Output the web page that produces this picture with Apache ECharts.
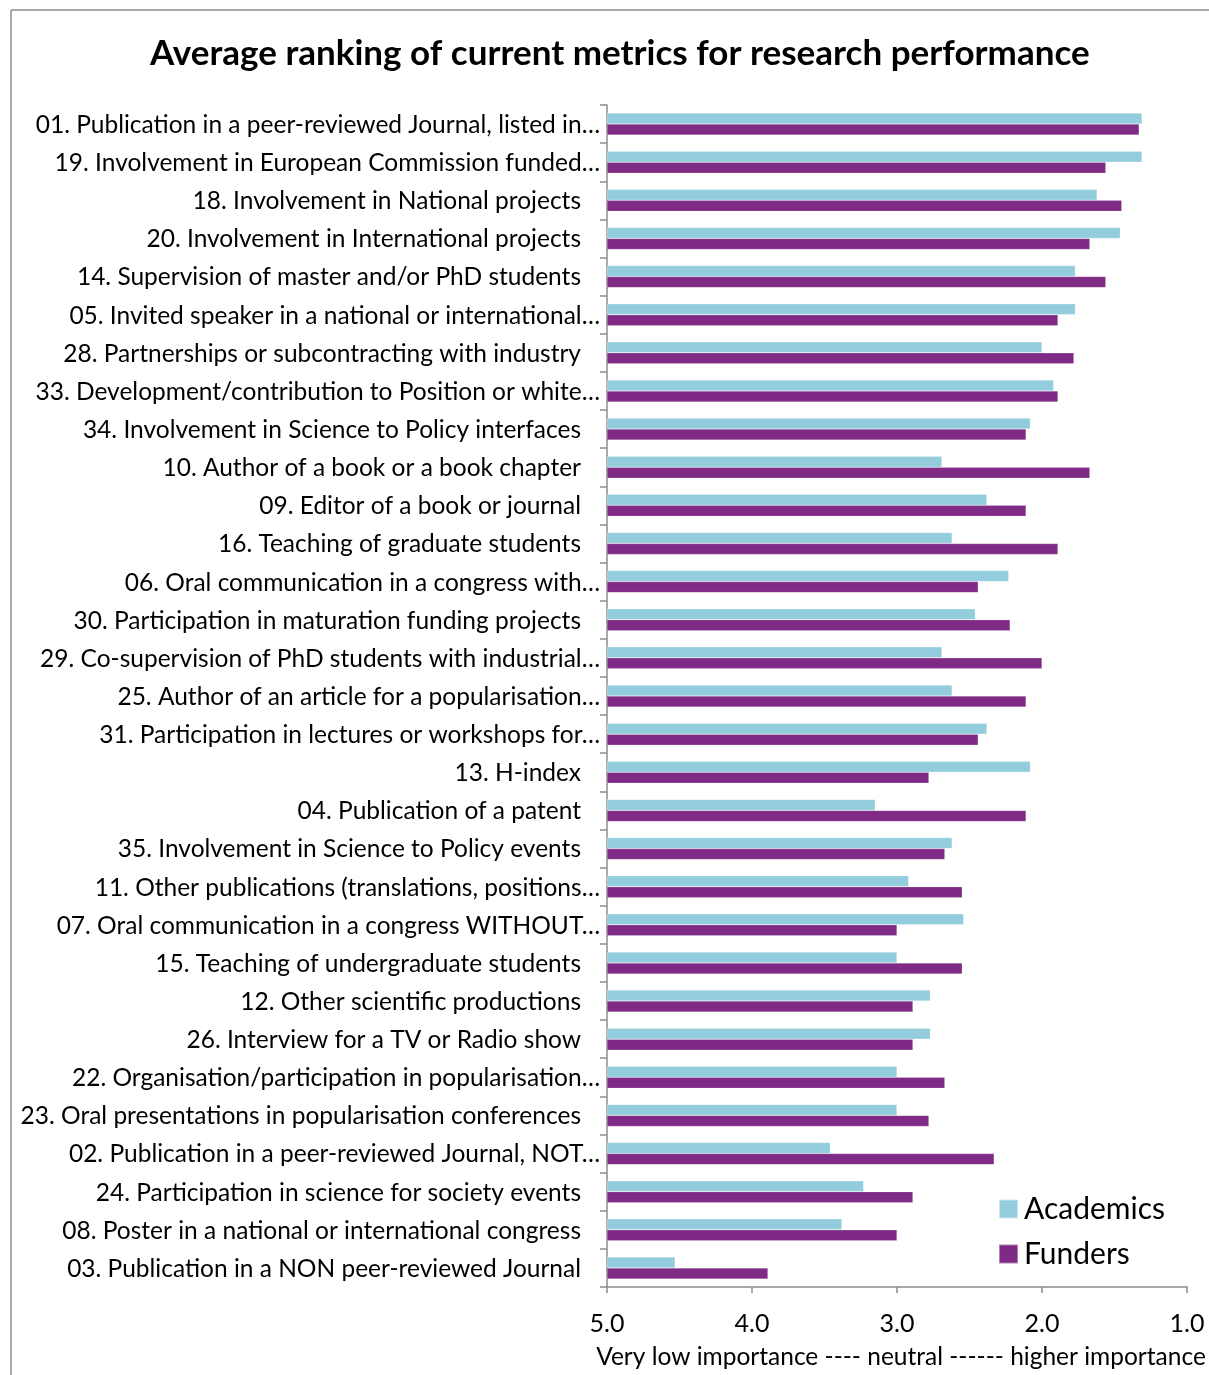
<!DOCTYPE html>
<html>
<head>
<meta charset="utf-8">
<script src="https://cdn.jsdelivr.net/npm/echarts@6/dist/echarts.min.js"></script>
<style>
html,body{margin:0;padding:0;background:#fff;}
#c{width:1209px;height:1375px;}
</style>
</head>
<body>
<div id="c"></div>
<script>
const categories = [
  "01. Publication in a peer-reviewed Journal, listed in…",
  "19. Involvement in European Commission funded…",
  "18. Involvement in National projects",
  "20. Involvement in International projects",
  "14. Supervision of master and/or PhD students",
  "05. Invited speaker in a national or international…",
  "28. Partnerships or subcontracting with industry",
  "33. Development/contribution to Position or white…",
  "34. Involvement in Science to Policy interfaces",
  "10. Author of a book or a book chapter",
  "09. Editor of a book or journal",
  "16. Teaching of graduate students",
  "06. Oral communication in a congress with…",
  "30. Participation in maturation funding projects",
  "29. Co-supervision of PhD students with industrial…",
  "25. Author of an article for a popularisation…",
  "31. Participation in lectures or workshops for…",
  "13. H-index",
  "04. Publication of a patent",
  "35. Involvement in Science to Policy events",
  "11. Other publications (translations, positions…",
  "07. Oral communication in a congress WITHOUT…",
  "15. Teaching of undergraduate students",
  "12. Other scientific productions",
  "26. Interview for a TV or Radio show",
  "22. Organisation/participation in popularisation…",
  "23. Oral presentations in popularisation conferences",
  "02. Publication in a peer-reviewed Journal, NOT…",
  "24. Participation in science for society events",
  "08. Poster in a national or international congress",
  "03. Publication in a NON peer-reviewed Journal"
];
const academics = [1.31,1.31,1.62,1.46,1.77,1.77,2.00,1.92,2.08,2.69,2.38,2.62,2.23,2.46,2.69,2.62,2.38,2.08,3.15,2.62,2.92,2.54,3.00,2.77,2.77,3.00,3.00,3.46,3.23,3.38,4.53];
const funders   = [1.33,1.56,1.45,1.67,1.56,1.89,1.78,1.89,2.11,1.67,2.11,1.89,2.44,2.22,2.00,2.11,2.44,2.78,2.11,2.67,2.55,3.00,2.55,2.89,2.89,2.67,2.78,2.33,2.89,3.00,3.89];
const tickLabels = ["5.0","4.0","3.0","2.0","1.0"];
const seriesNames = ["Academics","Funders"];
const title = "Average ranking of current metrics for research performance";
const axisTitle = "Very low importance ---- neutral ------ higher importance";

// Scale runs from 5 (left, lowest) to 1 (right); bars grow from 5.
const SCALE_TOP = 5;
const FONT = "Lato, 'Open Sans', sans-serif";
const LBL = 24.5;
const chart = echarts.init(document.getElementById('c'), null, {renderer:'canvas'});
chart.setOption({
  backgroundColor: '#fff',
  animation: false,
  title: {
    text: title, left: 145, top: 31,
    textStyle: {fontFamily: FONT, fontWeight: 'bold', fontSize: 35, color: '#000'}
  },
  legend: {
    orient: 'vertical', left: 998, top: 1194, itemGap: 15, padding: 0,
    itemWidth: 19, itemHeight: 19, icon: 'rect',
    textStyle: {fontFamily: FONT, fontSize: 30, lineHeight: 30, color: '#000', padding: [0,0,0,1]},
    data: seriesNames
  },
  grid: {left: 607, right: 22, top: 105, bottom: 86, containLabel: false},
  xAxis: {
    type: 'value', min: 0, max: 4, interval: 1,
    axisLine: {show: true, lineStyle: {color: '#8c8c8c', width: 1.5}},
    axisTick: {show: true, length: 6, lineStyle: {color: '#8c8c8c', width: 1.5}},
    splitLine: {show: false},
    axisLabel: {
      margin: 24, fontFamily: FONT, fontSize: 25, color: '#000',
      formatter: v => tickLabels[Math.round(v)]
    },
    name: axisTitle, nameLocation: 'middle', nameGap: 58,
    nameTextStyle: {fontFamily: FONT, fontSize: 24.5, color: '#000', padding: [0,0,0,8]}
  },
  yAxis: {
    type: 'category', inverse: true, data: categories,
    axisLine: {show: true, lineStyle: {color: '#8c8c8c', width: 1.5}},
    axisTick: {show: true, length: 7, lineStyle: {color: '#8c8c8c', width: 1.5}},
    axisLabel: {
      interval: 0, margin: 7, fontFamily: FONT, fontSize: LBL, color: '#000',
      formatter: v => v.endsWith('…') ? '{e|' + v + '}' : '{n|' + v + '}',
      rich: {
        e: {fontFamily: FONT, fontSize: LBL, color: '#000', padding: [2, 0, 0, 0]},
        n: {fontFamily: FONT, fontSize: LBL, color: '#000', padding: [2, 19, 0, 0]}
      }
    }
  },
  series: [
    {
      name: seriesNames[0], type: 'bar', barWidth: 11, barGap: '0%',
      itemStyle: {color: '#93cddd', borderColor: 'rgba(255,255,255,0.5)', borderWidth: 0.5},
      data: academics.map(v => +(SCALE_TOP - v).toFixed(3))
    },
    {
      name: seriesNames[1], type: 'bar', barWidth: 11, barGap: '0%',
      itemStyle: {color: '#7f2b85', borderColor: 'rgba(255,255,255,0.4)', borderWidth: 0.5},
      data: funders.map(v => +(SCALE_TOP - v).toFixed(3))
    }
  ],
  graphic: [
    {type: 'line', shape: {x1: 11, y1: 10, x2: 1209, y2: 10}, style: {stroke: '#8c8c8c', lineWidth: 1.5}},
    {type: 'line', shape: {x1: 11, y1: 10, x2: 11, y2: 1375}, style: {stroke: '#8c8c8c', lineWidth: 1.5}}
  ]
});
</script>
</body>
</html>
